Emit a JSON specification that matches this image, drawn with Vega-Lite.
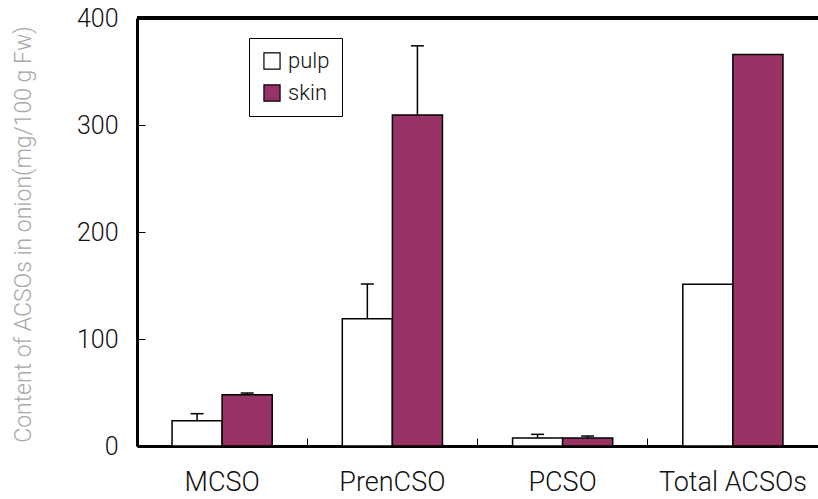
{
  "$schema": "https://vega.github.io/schema/vega-lite/v6.json",
  "width": 681,
  "height": 428,
  "autosize": {"type": "none"},
  "padding": {"left": 137, "top": 18, "right": 0, "bottom": 53},
  "config": {"view": {"stroke": null}, "font": "Roboto"},
  "data": {
    "values": [
      {"compound": "MCSO", "part": "pulp", "value": 23.6, "upper": 30.2},
      {"compound": "MCSO", "part": "skin", "value": 48, "upper": 49.5},
      {"compound": "PrenCSO", "part": "pulp", "value": 119, "upper": 151.4},
      {"compound": "PrenCSO", "part": "skin", "value": 309.3, "upper": 374},
      {"compound": "PCSO", "part": "pulp", "value": 7.5, "upper": 10.9},
      {"compound": "PCSO", "part": "skin", "value": 7.5, "upper": 9.3},
      {"compound": "Total ACSOs", "part": "pulp", "value": 151.1, "upper": null},
      {"compound": "Total ACSOs", "part": "skin", "value": 366, "upper": null}
    ]
  },
  "layer": [
    {
      "transform": [{"filter": "datum.upper != null"}],
      "mark": {"type": "rule", "color": "black", "strokeWidth": 1.5},
      "encoding": {
        "x": {"field": "compound", "type": "nominal", "sort": ["MCSO", "PrenCSO", "PCSO", "Total ACSOs"]},
        "xOffset": {"field": "part", "type": "nominal", "sort": ["pulp", "skin"]},
        "y": {"field": "value", "type": "quantitative"},
        "y2": {"field": "upper"}
      }
    },
    {
      "transform": [{"filter": "datum.upper != null"}],
      "mark": {"type": "tick", "orient": "horizontal", "size": 13, "thickness": 1.5, "color": "black", "opacity": 1},
      "encoding": {
        "x": {"field": "compound", "type": "nominal", "sort": ["MCSO", "PrenCSO", "PCSO", "Total ACSOs"]},
        "xOffset": {"field": "part", "type": "nominal", "sort": ["pulp", "skin"]},
        "y": {"field": "upper", "type": "quantitative"}
      }
    },
    {
      "mark": {"type": "bar", "stroke": "black", "strokeWidth": 1.5, "opacity": 1},
      "encoding": {
        "x": {
          "field": "compound",
          "type": "nominal",
          "sort": ["MCSO", "PrenCSO", "PCSO", "Total ACSOs"],
          "scale": {"paddingInner": 0, "paddingOuter": 0},
          "axis": {
            "title": null,
            "labelAngle": 0,
            "labelAlign": "center",
            "labelOffset": 0,
            "labelFont": "Roboto",
            "labelFontWeight": 300,
            "labelFontSize": 27,
            "labelColor": "#111111",
            "labelPadding": 44,
            "domainColor": "black",
            "domainWidth": 3,
            "ticks": true,
            "tickSize": -8,
            "tickWidth": 1,
            "tickColor": "black",
            "bandPosition": 0
          }
        },
        "xOffset": {
          "field": "part",
          "type": "nominal",
          "sort": ["pulp", "skin"],
          "scale": {"paddingInner": 0, "paddingOuter": 0.7}
        },
        "y": {
          "field": "value",
          "type": "quantitative",
          "scale": {"domain": [0, 400], "nice": false},
          "axis": {
            "title": "Content of ACSOs in onion(mg/100 g Fw)",
            "titleFont": "Roboto",
            "titleColor": "#a8a8a8",
            "titleFontSize": 23,
            "titleFontWeight": 300,
            "titleX": -114,
            "titleY": 216,
            "titleAlign": "center",
            "titleBaseline": "middle",
            "values": [0, 100, 200, 300, 400],
            "grid": false,
            "labelFont": "Roboto",
            "labelFontWeight": 300,
            "labelFontSize": 25,
            "labelColor": "#111111",
            "labelPadding": 27,
            "domainColor": "black",
            "domainWidth": 3,
            "tickSize": -8,
            "tickWidth": 1,
            "tickColor": "black"
          }
        },
        "fill": {
          "field": "part",
          "type": "nominal",
          "scale": {"domain": ["pulp", "skin"], "range": ["white", "#993366"]},
          "legend": {
            "orient": "none",
            "legendX": 112,
            "legendY": 20,
            "title": null,
            "strokeColor": "black",
            "padding": 12,
            "symbolType": "square",
            "symbolSize": 260,
            "symbolStrokeColor": "black",
            "symbolStrokeWidth": 1.2,
            "labelFont": "Roboto",
            "labelFontWeight": 300,
            "labelFontSize": 22,
            "labelColor": "#111111",
            "labelOffset": 5,
            "rowPadding": 10
          }
        }
      }
    },
    {
      "mark": {"type": "rule", "color": "black", "strokeWidth": 3},
      "encoding": {"y": {"datum": 400}}
    }
  ]
}
